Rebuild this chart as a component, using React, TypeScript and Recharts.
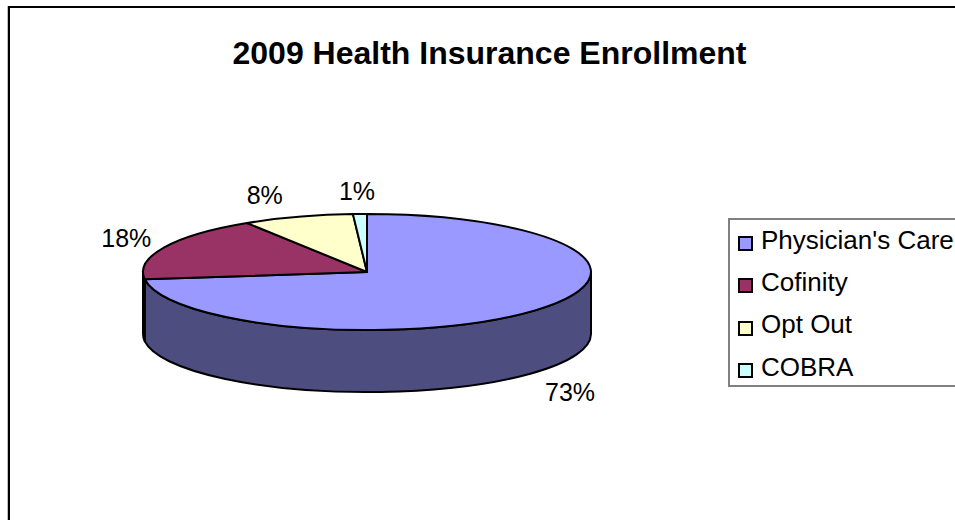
import { Legend, Pie, PieChart } from "recharts";

const categories = ["Physician's Care", "Cofinity", "Opt Out", "COBRA"];
const shares = [73, 18, 8, 1];
const topColors = ["#9999ff", "#993366", "#ffffcc", "#ccffff"];
const wallColors = ["#4d4d80", "#000000", "#808066", "#668080"];

const tableData = categories.map((name, i) => ({
  name,
  value: shares[i],
  fill: topColors[i],
  wall: wallColors[i],
}));

const FONT = '"Liberation Sans", Arial, sans-serif';
const TILT = 58 / 224;
const DEPTH = 62;
// hand placed label nudges, same order as categories
const labelNudge = [
  [35, 82],
  [-38, -9],
  [-33, -22],
  [-3, -23],
];

const toPoint = (cx: number, cy: number, r: number, deg: number, drop = 0) => {
  const rad = (deg * Math.PI) / 180;
  return [cx + r * Math.cos(rad), cy - r * TILT * Math.sin(rad) + drop];
};

function TopSlice(props: any) {
  const { cx, cy, outerRadius: r, startAngle, endAngle, fill } = props;
  const [x0, y0] = toPoint(cx, cy, r, startAngle);
  const [x1, y1] = toPoint(cx, cy, r, endAngle);
  const large = Math.abs(startAngle - endAngle) > 180 ? 1 : 0;
  const d = `M${cx},${cy} L${x0},${y0} A${r},${r * TILT} 0 ${large} 1 ${x1},${y1} Z`;
  return <path d={d} fill={fill} stroke="#000" strokeWidth={2} strokeLinejoin="round" />;
}

function WallSlice(props: any) {
  const { cx, cy, outerRadius: r, startAngle, endAngle, payload } = props;
  const from = Math.min(startAngle, 0);
  const to = Math.max(endAngle, -180);
  if (from <= to) return null;
  const [x0, y0] = toPoint(cx, cy, r, from);
  const [x1, y1] = toPoint(cx, cy, r, to);
  const ry = r * TILT;
  const d = `M${x0},${y0} A${r},${ry} 0 0 1 ${x1},${y1} L${x1},${y1 + DEPTH} A${r},${ry} 0 0 0 ${x0},${y0 + DEPTH} Z`;
  return <path d={d} fill={payload.wall} stroke="#000" strokeWidth={2} strokeLinejoin="round" />;
}

function renderPercent(props: any) {
  const { cx, cy, outerRadius: r, midAngle, index, value } = props;
  const [x, y] = toPoint(cx, cy, r, midAngle);
  const [dx, dy] = labelNudge[index];
  return (
    <text
      x={x + dx}
      y={y + dy}
      textAnchor="middle"
      dominantBaseline="central"
      fontFamily={FONT}
      fontSize={25}
      fill="#000"
    >
      {value}%
    </text>
  );
}

function LegendBox() {
  return (
    <div
      style={{
        width: 240,
        height: 169,
        boxSizing: "border-box",
        border: "2px solid #808080",
        fontFamily: FONT,
        fontSize: 26,
        color: "#000",
      }}
    >
      {categories.map((name, i) => (
        <div
          key={name}
          style={{
            height: 42.3,
            position: "relative",
            top: -1,
            display: "flex",
            alignItems: "center",
            whiteSpace: "nowrap",
          }}
        >
          <span
            style={{
              width: 11,
              height: 11,
              margin: "7px 8px 0 8px",
              background: topColors[i],
              border: "2px solid #000",
              flex: "none",
            }}
          />
          {name}
        </div>
      ))}
    </div>
  );
}

export default function App() {
  return (
    <div style={{ position: "absolute", left: 0, top: 0, width: 955, height: 520, overflow: "hidden", background: "#fff" }}>
      <div
        style={{
          position: "absolute",
          left: 8,
          top: 6,
          width: 1000,
          height: 600,
          borderLeft: "2px solid #000",
          borderTop: "2px solid #000",
          boxShadow: "-1px 0 0 #c0c0c0",
        }}
      />
      <div
        style={{
          position: "absolute",
          left: 0,
          width: 979,
          top: 35,
          textAlign: "center",
          fontFamily: FONT,
          fontWeight: "bold",
          fontSize: 32,
          lineHeight: "36px",
          color: "#000",
        }}
      >
        2009 Health Insurance Enrollment
      </div>
      <PieChart width={955} height={520} margin={{ top: 0, right: 0, bottom: 0, left: 0 }} style={{ position: "absolute", left: 0, top: 0 }}>
        <Pie
          data={tableData}
          dataKey="value"
          nameKey="name"
          cx={367}
          cy={272}
          outerRadius={224}
          startAngle={90}
          endAngle={-270}
          legendType="none"
          shape={WallSlice}
          isAnimationActive={false}
        />
        <Pie
          data={tableData}
          dataKey="value"
          nameKey="name"
          cx={367}
          cy={272}
          outerRadius={224}
          startAngle={90}
          endAngle={-270}
          shape={TopSlice}
          label={renderPercent}
          labelLine={false}
          isAnimationActive={false}
        />
        <Legend content={LegendBox} wrapperStyle={{ position: "absolute", left: 728, top: 218, width: 240, bottom: "auto", right: "auto" }} />
      </PieChart>
    </div>
  );
}
